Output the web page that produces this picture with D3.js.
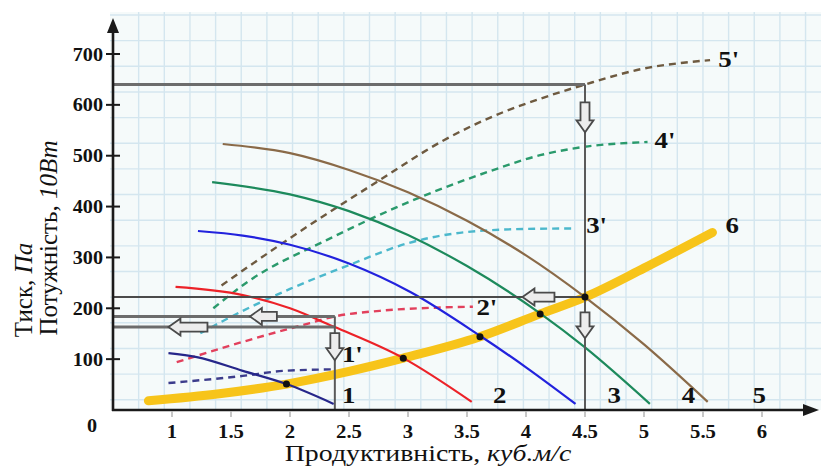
<!DOCTYPE html>
<html>
<head>
<meta charset="utf-8">
<script src="https://cdn.jsdelivr.net/npm/d3@7"></script>
<style>
  html, body { margin: 0; padding: 0; background: #ffffff; }
  svg { display: block; }
  text { font-family: "Liberation Serif", "Times New Roman", serif; fill: #111; }
</style>
</head>
<body>
<svg id="chart" width="821" height="468"></svg>
<script>
// Fan pressure characteristics (flow, pressure Pa)
const fan1 = [[0.97,112],[1.21,104],[1.6,77],[1.97,51],[2.37,12]];
const fan2 = [[1.03,242],[1.6,226],[2.0,200],[2.38,163],[2.96,102],[3.54,16]];
const fan3 = [[1.22,352],[1.6,343],[2.0,325],[2.5,288],[3.02,232],[3.61,146],[4.0,84],[4.42,12]];
const fan4 = [[1.34,448],[2.0,424],[2.5,391],[3.0,344],[3.5,283],[4.12,190],[4.5,123],[5.05,12]];
const fan5 = [[1.43,523],[2.0,505],[2.5,472],[3.0,428],[3.5,372],[4.0,304],[4.5,222],[5.0,129],[5.54,16]];

// Fan power characteristics (flow, power x10 W)
const power1 = [[0.97,53],[1.6,67],[1.95,77],[2.38,80]];
const power2 = [[1.04,94],[1.6,134],[2.17,171],[2.38,184],[2.76,195],[3.2,201],[3.55,203]];
const power3 = [[1.24,151],[1.6,195],[2.0,238],[2.5,285],[3.0,328],[3.5,350],[4.0,356],[4.42,357]];
const power4 = [[1.35,200],[1.66,255],[2.31,334],[3.1,418],[3.7,470],[4.12,501],[4.48,517],[5.03,527]];
const power5 = [[1.42,245],[2.0,338],[2.76,452],[3.3,530],[3.8,585],[4.12,612],[4.5,640],[4.97,670],[5.56,688]];

// Network characteristic (curve 6)
const network = [[0.8,18],[1.4,32],[1.97,51],[2.5,76],[2.96,102],[3.61,144],[4.12,189],[4.5,222],[5.0,279],[5.58,349]];

// Operating points (fan curve x network)
const operating = [[1.97,51],[2.96,102],[3.61,144],[4.12,189],[4.5,222]];

// Reading lines
const guideH = [[640,4.5],[222,4.5],[184,2.38],[163,2.38]];
const guideV = [[4.5,640],[2.38,184]];

// Block arrows: tip (x, y), direction, length in px
const arrowTips = [
  {x:4.5, y:546, dir:"down", len:30},
  {x:4.5, y:141, dir:"down", len:26},
  {x:3.97, y:222, dir:"left", len:32},
  {x:1.66, y:184, dir:"left", len:27},
  {x:0.97, y:163, dir:"left", len:39},
  {x:2.38, y:98, dir:"down", len:27}
];

const xTicks = [1,1.5,2,2.5,3,3.5,4,4.5,5,5.5,6];
const xTickLabels = ["1","1.5","2","2.5","3","3.5","4","4.5","5","5.5","6"];
const yTicks = [100,200,300,400,500,600,700];

const curveLabels = [
  {t:"1", x:2.44, y:14}, {t:"1'", x:2.44, y:94},
  {t:"2", x:3.72, y:14}, {t:"2'", x:3.58, y:187},
  {t:"3", x:4.69, y:14}, {t:"3'", x:4.51, y:348},
  {t:"4", x:5.32, y:14}, {t:"4'", x:5.09, y:515},
  {t:"5", x:5.92, y:14}, {t:"5'", x:5.63, y:674},
  {t:"6", x:5.69, y:348}
];

const svg = d3.select("#chart");
const W = 821, H = 468;
const x = d3.scaleLinear().domain([0.5, 6.5]).range([113, 821]);
const y = d3.scaleLinear().domain([0, 700]).range([410, 54]);
const x0 = x(0.5), y0 = y(0);

// Plot background and square paper grid
const gridTop = 12;
svg.append("rect").attr("x", 110).attr("y", gridTop).attr("width", W - 110).attr("height", y0 - gridTop)
  .attr("fill", "#f5fafa");
const grid = svg.append("g").attr("stroke", "#d4e6ef").attr("stroke-width", 1.4);
const step = 25.65;
for (let gx = x0 + step; gx < W; gx += step) {
  grid.append("line").attr("x1", gx).attr("x2", gx).attr("y1", gridTop).attr("y2", y0);
}
for (let gy = 15; gy < y0; gy += step) {
  grid.append("line").attr("x1", 110).attr("x2", W).attr("y1", gy).attr("y2", gy);
}

const line = d3.line().x(d => x(d[0])).y(d => y(d[1])).curve(d3.curveMonotoneX);

// Network curve
svg.append("path").datum(network).attr("d", line)
  .attr("fill", "none").attr("stroke", "#f7c41a").attr("stroke-width", 9).attr("stroke-linecap", "round");

// Power curves (dashed)
const powerStyles = [
  [power1, "#3c3c8c"], [power2, "#e2405c"], [power3, "#4cb8cc"], [power4, "#2a9a6c"], [power5, "#6e5a40"]
];
powerStyles.forEach(([d, c]) => {
  svg.append("path").datum(d).attr("d", line)
    .attr("fill", "none").attr("stroke", c).attr("stroke-width", 2.4).attr("stroke-dasharray", "7,5");
});

// Pressure curves (solid)
const fanStyles = [
  [fan1, "#26268a"], [fan2, "#ec2228"], [fan3, "#2222dd"], [fan4, "#1d8a5c"], [fan5, "#8a6a48"]
];
fanStyles.forEach(([d, c]) => {
  svg.append("path").datum(d).attr("d", line)
    .attr("fill", "none").attr("stroke", c).attr("stroke-width", 2.2);
});

// Reading lines
guideH.forEach(([v, xe], i) => {
  svg.append("line").attr("x1", x0).attr("x2", x(xe)).attr("y1", y(v)).attr("y2", y(v))
    .attr("stroke", i === 1 ? "#4a4a4a" : "#6c6c6c").attr("stroke-width", i === 1 ? 2 : 3);
});
guideV.forEach(([xv, vt]) => {
  svg.append("line").attr("x1", x(xv)).attr("x2", x(xv)).attr("y1", y(vt)).attr("y2", y0)
    .attr("stroke", "#5a5a5a").attr("stroke-width", 2);
});

// Operating points
svg.append("g").selectAll("circle").data(operating).join("circle")
  .attr("cx", d => x(d[0])).attr("cy", d => y(d[1])).attr("r", 3.5).attr("fill", "#111");

// Block arrows
function arrowPath(L) {
  const hl = 12, hw = 8.5, bw = 4.5;
  return `M0,0 L${hl},${-hw} L${hl},${-bw} L${L},${-bw} L${L},${bw} L${hl},${bw} L${hl},${hw} Z`;
}
arrowTips.forEach(a => {
  const rot = a.dir === "left" ? 0 : -90;
  svg.append("path").attr("d", arrowPath(a.len))
    .attr("transform", `translate(${x(a.x)},${y(a.y)}) rotate(${rot})`)
    .attr("fill", "#ececec").attr("stroke", "#4a4a4a").attr("stroke-width", 1.8);
});

// Axes
const axisG = svg.append("g").attr("stroke", "#1a1a1a");
axisG.append("line").attr("x1", x0).attr("x2", x0).attr("y1", y0 + 1).attr("y2", 26).attr("stroke-width", 2.6);
axisG.append("line").attr("x1", x0 - 1).attr("x2", 810).attr("y1", y0).attr("y2", y0).attr("stroke-width", 2.6);
svg.append("path").attr("d", `M${x0},18 L${x0 - 6},33 L${x0 + 6},33 Z`).attr("fill", "#1a1a1a");
svg.append("path").attr("d", `M819,${y0} L803,${y0 - 6} L803,${y0 + 6} Z`).attr("fill", "#1a1a1a");

// Tick marks
svg.append("g").selectAll("line").data(yTicks).join("line")
  .attr("x1", x0 - 7).attr("x2", x0 + 7).attr("y1", d => y(d)).attr("y2", d => y(d))
  .attr("stroke", "#1a1a1a").attr("stroke-width", 2);
svg.append("g").selectAll("line").data(xTicks).join("line")
  .attr("x1", d => x(d)).attr("x2", d => x(d)).attr("y1", y0 + 1).attr("y2", y0 + 7)
  .attr("stroke", "#b5b5b5").attr("stroke-width", 1.5);

// Stretched text helper
function label(g, txt, px, py, size, anchor, weight) {
  return g.append("text").attr("transform", `translate(${px},${py}) scale(1.12,1)`)
    .attr("text-anchor", anchor).attr("font-size", size).attr("font-weight", weight).text(txt);
}

const tickG = svg.append("g");
yTicks.forEach(v => label(tickG, String(v), x0 - 10, y(v) + 6.5, 18, "end", "bold"));
xTicks.forEach((v, i) => label(tickG, xTickLabels[i], x(v), 438, 18.5, "middle", "bold"));
label(tickG, "0", 92, 432, 18, "middle", "bold");

// Curve labels
const labG = svg.append("g");
curveLabels.forEach(l => label(labG, l.t, x(l.x), y(l.y), 24, "start", "bold"));

// Axis titles
const xt = svg.append("text").attr("transform", "translate(428,461) scale(1.16,1)")
  .attr("text-anchor", "middle").attr("font-size", 24).attr("fill", "#222");
xt.append("tspan").text("Продуктивність, ");
xt.append("tspan").attr("font-style", "italic").text("куб.м/с");

const yt1 = svg.append("text").attr("transform", "translate(32,290) rotate(-90)")
  .attr("text-anchor", "middle").attr("font-size", 25).attr("fill", "#222");
yt1.append("tspan").text("Тиск, ");
yt1.append("tspan").attr("font-style", "italic").text("Па");

const yt2 = svg.append("text").attr("transform", "translate(57,238) rotate(-90)")
  .attr("text-anchor", "middle").attr("font-size", 25).attr("fill", "#222");
yt2.append("tspan").text("Потужність, ");
yt2.append("tspan").attr("font-style", "italic").text("10Вт");
</script>
</body>
</html>
